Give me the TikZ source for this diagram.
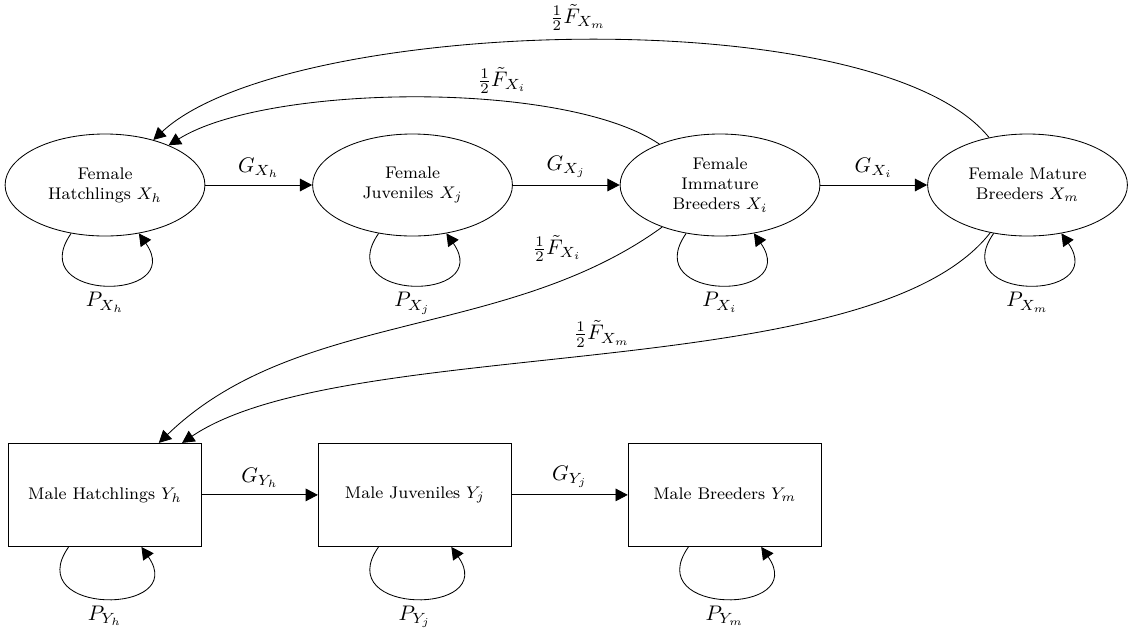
\documentclass[tikz,border=0pt]{standalone}
\usepackage{amsmath, amssymb}
\usepackage{tikz}
\usetikzlibrary{positioning}
\usetikzlibrary{shapes.geometric}
\usetikzlibrary{arrows.meta}

\begin{document}
\begin{tikzpicture}[
    >={Triangle[length=5.8pt, width=6pt]},
    female/.style={ellipse, draw, align=center, font=\footnotesize, minimum width=3.33cm, minimum height=1.7cm, inner sep=1pt},
    male/.style={rectangle, draw, align=center, font=\footnotesize, minimum width=3.22cm, minimum height=1.72cm},
    selfloop/.style={out=-125, in=-55, min distance=1.4cm, max distance=1.4cm}
]
    \useasboundingbox (-1.75,-7.433) rectangle (17.13,3.083);

    % female stages
    \node[female] (Xh) at (0,0) {Female\\Hatchlings $X_h$};
    \node[female, right=1.78cm of Xh] (Xj) {Female\\Juveniles $X_j$};
    \node[female, right=1.78cm of Xj] (Xi) {Female\\Immature\\Breeders $X_i$};
    \node[female, right=1.78cm of Xi] (Xm) {Female Mature\\Breeders $X_m$};

    % male stages
    \node[male, below=3.44cm of Xh] (Yh) {Male Hatchlings $Y_h$};
    \node[male, right=1.93cm of Yh] (Yj) {Male Juveniles $Y_j$};
    \node[male, right=1.93cm of Yj] (Ym) {Male Breeders $Y_m$};

    % growth
    \draw[->] (Xh) -- node[above] {$G_{X_h}$} (Xj);
    \draw[->] (Xj) -- node[above] {$G_{X_j}$} (Xi);
    \draw[->] (Xi) -- node[above] {$G_{X_i}$} (Xm);
    \draw[->] (Yh) -- node[above] {$G_{Y_h}$} (Yj);
    \draw[->] (Yj) -- node[above] {$G_{Y_j}$} (Ym);

    % survival
    \draw[->] (Xh) to[selfloop] node[below] {$P_{X_h}$} (Xh);
    \draw[->] (Xj) to[selfloop] node[below] {$P_{X_j}$} (Xj);
    \draw[->] (Xi) to[selfloop] node[below] {$P_{X_i}$} (Xi);
    \draw[->] (Xm) to[selfloop] node[below] {$P_{X_m}$} (Xm);
    \draw[->] (Yh) to[selfloop] node[below] {$P_{Y_h}$} (Yh);
    \draw[->] (Yj) to[selfloop] node[below] {$P_{Y_j}$} (Yj);
    \draw[->] (Ym) to[selfloop] node[below] {$P_{Y_m}$} (Ym);

    % fecundity
    \draw[->] (Xi) to[out=146, in=32, looseness=0.6] node[pos=0.35, above] {$\frac{1}{2}\tilde{F}_{X_i}$} (Xh);
    \draw[->] (Xm) to[out=129, in=43, looseness=0.55] node[above=1pt] {$\frac{1}{2}\tilde{F}_{X_m}$} (Xh);
    \draw[->] (Xi) to[out=216, in=44, looseness=0.9] node[pos=0.15, above left] {$\frac{1}{2}\tilde{F}_{X_i}$} (Yh);
    \draw[->] (Xm) to[out=232, in=34, looseness=0.6] node[above] {$\frac{1}{2}\tilde{F}_{X_m}$} (Yh);
\end{tikzpicture}
\end{document}
